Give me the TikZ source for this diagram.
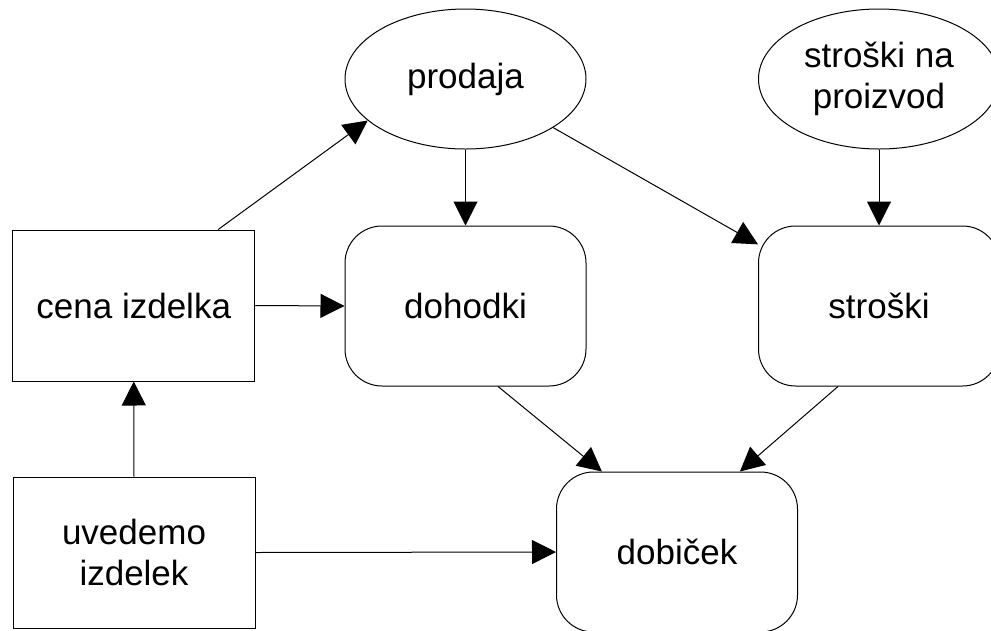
\documentclass[tikz,border=0pt]{standalone}
\usepackage{fontspec}
\setmainfont{Liberation Sans}
\usetikzlibrary{shapes.geometric,arrows.meta}
\begin{document}
\begin{tikzpicture}[x=1pt,y=-1pt,
  every node/.style={font=\fontsize{35pt}{41pt}\selectfont, align=center, inner sep=0pt, line width=1pt, draw=black},
  oval/.style={ellipse, minimum width=241pt, minimum height=140pt},
  sqbox/.style={rectangle, minimum width=242pt, minimum height=151pt},
  rbox/.style={rectangle, rounded corners=37pt, minimum width=241pt, minimum height=160pt},
  conn/.style={line width=1pt, -{Triangle[length=24pt,width=24pt]}}
]
\useasboundingbox (0,0) rectangle (991,630);
\clip (0,0) rectangle (991,630);

\node[oval]  (prodaja) at (465.5,79) {prodaja};
\node[oval]  (spp)     at (879,79)   {stroški na\\proizvod};
\node[sqbox] (cena)    at (133.75,305.5) {cena izdelka};
\node[rbox]  (dohodki) at (465.5,306) {dohodki};
\node[rbox]  (stroski) at (879,306) {stroški};
\node[sqbox] (uvedemo) at (134,552.5) {uvedemo\\izdelek};
\node[rbox]  (dobicek) at (677,552) {dobiček};

\draw[conn] (cena.42.6) -- (prodaja.203.2);
\draw[conn] (prodaja.south) -- (dohodki.north);
\draw[conn] (prodaja.-29.7) -- (stroski.153.8);
\draw[conn] (spp.south) -- (stroski.north);
\draw[conn] (cena.east) -- (dohodki.west);
\draw[conn] (uvedemo.north) -- (cena.south);
\draw[conn] (dohodki.-68.5) -- (dobicek.133.3);
\draw[conn] (stroski.-117.3) -- (dobicek.52.8);
\draw[conn] (uvedemo.east) -- (dobicek.west);
\end{tikzpicture}
\end{document}
